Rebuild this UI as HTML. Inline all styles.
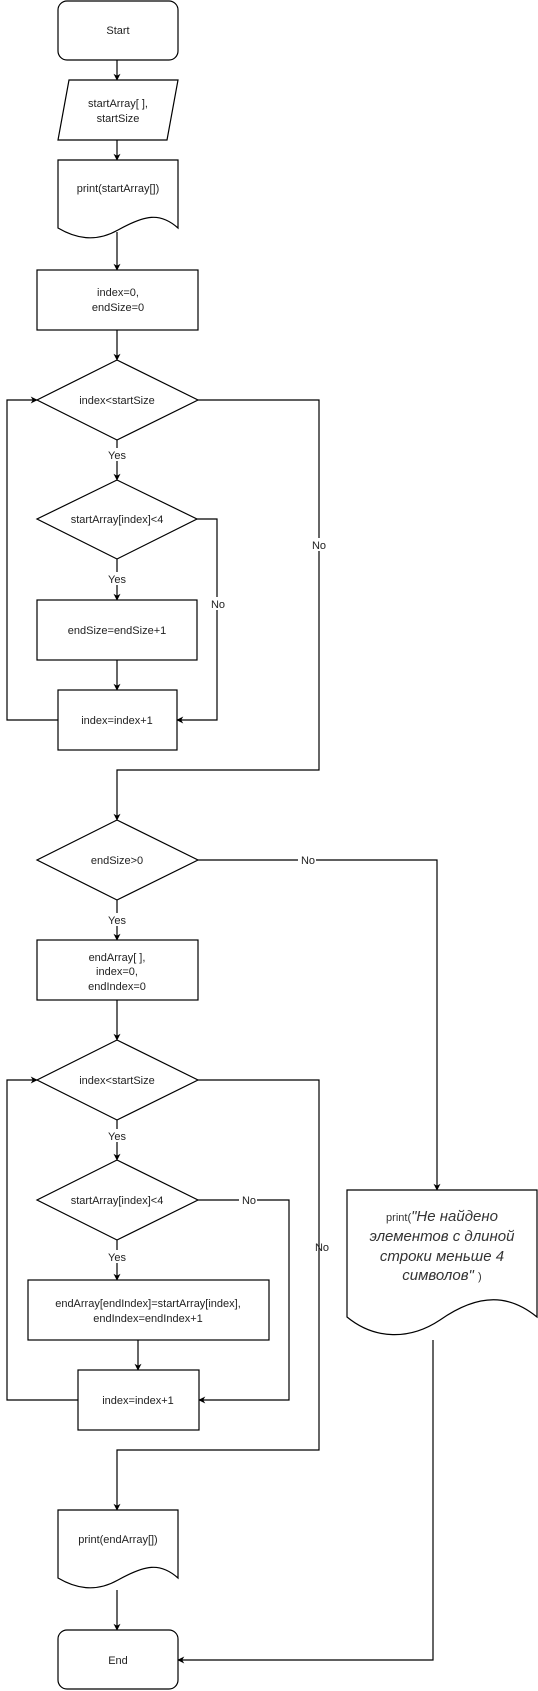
<!DOCTYPE html>
<html><head><meta charset="utf-8"><style>
html,body{margin:0;padding:0;background:#fff}
svg{display:block}
text{font-family:"Liberation Sans",sans-serif;font-size:11px;fill:#222}
text.ru{font-style:italic;font-size:15px;fill:#333}
tspan.n{font-style:normal;font-size:11px}
</style></head><body>
<svg width="538" height="1691" viewBox="0 0 538 1691" xmlns="http://www.w3.org/2000/svg">
<defs>
<marker id="a" viewBox="0 0 10 10" refX="9" refY="5" markerWidth="7" markerHeight="7" orient="auto" markerUnits="userSpaceOnUse"><path d="M0,0 L10,5 L0,10 L3,5 Z" fill="#000"/></marker>
</defs>
<g fill="#fff" stroke="#000" stroke-width="1.2">
<rect x="58" y="1" width="120" height="59" rx="9"/>
<path d="M69,80 H178 L167,140 H58 Z"/>
<path d="M58,160 H178 V228 C160,212 145,215 118,230 C95,243 75,238 58,228 Z"/>
<rect x="37" y="270" width="161" height="60"/>
<path d="M117,360 L198,400 L117,440 L37,400 Z"/>
<path d="M117,480 L197,519 L117,559 L37,519 Z"/>
<rect x="37" y="600" width="160" height="60"/>
<rect x="58" y="690" width="119" height="60"/>
<path d="M117,820 L198,860 L117,900 L37,860 Z"/>
<rect x="37" y="940" width="161" height="60"/>
<path d="M117,1040 L198,1080 L117,1120 L37,1080 Z"/>
<path d="M117,1160 L198,1200 L117,1240 L37,1200 Z"/>
<rect x="28" y="1280" width="241" height="60"/>
<rect x="78" y="1370" width="121" height="60"/>
<path d="M347,1190 H537 V1317 C510,1295 480,1292 440,1320 C410,1340 375,1340 347,1317 Z"/>
<path d="M58,1510 H178 V1578 C160,1562 145,1565 118,1580 C95,1593 75,1588 58,1578 Z"/>
<rect x="58" y="1630" width="120" height="59" rx="9"/>
</g>
<g fill="none" stroke="#000" stroke-width="1.2" marker-end="url(#a)">
<path d="M117,60 V80"/>
<path d="M117,140 V160"/>
<path d="M117,232 V270"/>
<path d="M117,330 V360"/>
<path d="M117,440 V480"/>
<path d="M117,559 V600"/>
<path d="M117,660 V690"/>
<path d="M197,519 H217 V720 H177"/>
<path d="M58,720 H7 V400 H37"/>
<path d="M198,400 H319 V770 H117 V820"/>
<path d="M198,860 H437 V1190"/>
<path d="M117,900 V940"/>
<path d="M117,1000 V1040"/>
<path d="M117,1120 V1160"/>
<path d="M117,1240 V1280"/>
<path d="M138,1340 V1370"/>
<path d="M198,1200 H289 V1400 H199"/>
<path d="M78,1400 H7 V1080 H37"/>
<path d="M198,1080 H319 V1450 H117 V1510"/>
<path d="M117,1590 V1630"/>
<path d="M433,1340 V1660 H178"/>
</g>
<g text-anchor="middle">
<text x="118" y="34">Start</text>
<text x="118" y="107">startArray[ ],</text>
<text x="118" y="122">startSize</text>
<text x="118" y="192">print(startArray[])</text>
<text x="118" y="296">index=0,</text>
<text x="118" y="311">endSize=0</text>
<text x="117" y="404">index&lt;startSize</text>
<text x="117" y="523">startArray[index]&lt;4</text>
<text x="117" y="634">endSize=endSize+1</text>
<text x="117" y="724">index=index+1</text>
<text x="117" y="864">endSize&gt;0</text>
<text x="117" y="961">endArray[ ],</text>
<text x="117" y="975">index=0,</text>
<text x="117" y="990">endIndex=0</text>
<text x="117" y="1084">index&lt;startSize</text>
<text x="117" y="1204">startArray[index]&lt;4</text>
<text x="148" y="1307">endArray[endIndex]=startArray[index],</text>
<text x="148" y="1322">endIndex=endIndex+1</text>
<text x="138" y="1404">index=index+1</text>
<text x="118" y="1543">print(endArray[])</text>
<text x="118" y="1664">End</text>
</g>
<g text-anchor="middle">
<rect x="105" y="448" width="25" height="13" fill="#fff"/><text x="117" y="459">Yes</text>
<rect x="105" y="572" width="25" height="13" fill="#fff"/><text x="117" y="583">Yes</text>
<rect x="208" y="597" width="18" height="13" fill="#fff"/><text x="218" y="608">No</text>
<rect x="310" y="538" width="18" height="13" fill="#fff"/><text x="319" y="549">No</text>
<rect x="298" y="853" width="18" height="13" fill="#fff"/><text x="308" y="864">No</text>
<rect x="105" y="913" width="25" height="13" fill="#fff"/><text x="117" y="924">Yes</text>
<rect x="105" y="1129" width="25" height="13" fill="#fff"/><text x="117" y="1140">Yes</text>
<rect x="239" y="1193" width="18" height="13" fill="#fff"/><text x="249" y="1204">No</text>
<rect x="105" y="1250" width="25" height="13" fill="#fff"/><text x="117" y="1261">Yes</text>
<text x="322" y="1251">No</text>
</g>
<g text-anchor="middle">
<text class="ru" x="442" y="1221"><tspan class="n">print(</tspan>"Не найдено</text>
<text class="ru" x="442" y="1241">элементов с длиной</text>
<text class="ru" x="442" y="1261">строки меньше 4</text>
<text class="ru" x="442" y="1280">символов" <tspan class="n">)</tspan></text>
</g>
</svg>
</body></html>
